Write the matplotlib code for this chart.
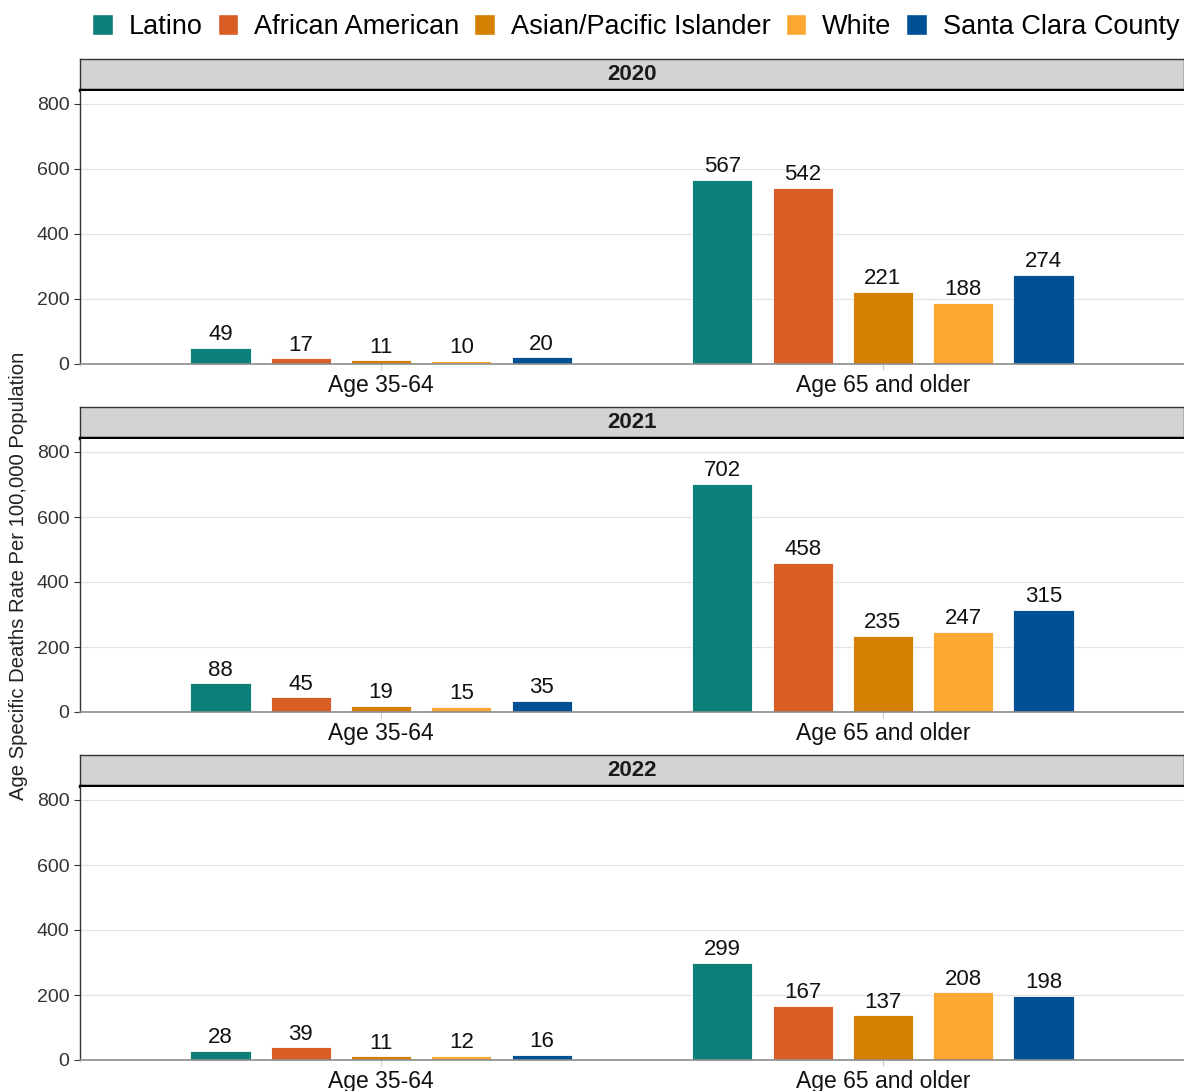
import numpy as np
import matplotlib.pyplot as plt
from matplotlib.patches import Patch

plt.rcParams['font.family'] = ['Liberation Sans', 'DejaVu Sans']

years = ['2020', '2021', '2022']
ages = ['Age 35-64', 'Age 65 and older']
groups = ['Latino', 'African American', 'Asian/Pacific Islander', 'White', 'Santa Clara County']
colors = ['#0b7f78', '#d95e26', '#d58000', '#fba832', '#005096']

# rates per group: [Age 35-64, Age 65 and older]
rates_2020 = [[49, 567], [17, 542], [11, 221], [10, 188], [20, 274]]
rates_2021 = [[88, 702], [45, 458], [19, 235], [15, 247], [35, 315]]
rates_2022 = [[28, 299], [39, 167], [11, 137], [12, 208], [16, 198]]
rates = [rates_2020, rates_2021, rates_2022]

W, H = 1184, 1091
fig = plt.figure(figsize=(W / 100, H / 100), dpi=100)


def box(l, t, r, b):
    return [l / W, 1 - b / H, (r - l) / W, (b - t) / H]


x = np.arange(len(ages))
step = 0.16
width = 0.12
offsets = (np.arange(len(groups)) - 2) * step

strip_tops = [59, 407, 755]
for yr, data, st in zip(years, rates, strip_tops):
    # facet strip
    sax = fig.add_axes(box(80, st, 1184, st + 31))
    sax.set_facecolor('#d3d3d3')
    sax.set_xticks([])
    sax.set_yticks([])
    for s in sax.spines.values():
        s.set_color('#333333')
        s.set_linewidth(1)
    sax.spines['bottom'].set_color('black')
    sax.spines['bottom'].set_linewidth(2.5)
    sax.text(0.5, 0.5, yr, transform=sax.transAxes, ha='center', va='center',
             fontsize=16, fontweight='bold', color='#1a1a1a')

    ax = fig.add_axes(box(80, st + 32, 1184, st + 305))
    for i, (g, c) in enumerate(zip(groups, colors)):
        vals = data[i]
        bars = ax.bar(x + offsets[i], vals, width, color=c, edgecolor='white',
                      linewidth=0.6, zorder=2)
        for b, v in zip(bars, vals):
            ax.annotate(str(v), (b.get_x() + b.get_width() / 2, v),
                        xytext=(0, 2), textcoords='offset points',
                        ha='center', va='bottom', fontsize=16, color='#111111')
    ax.set_xlim(-0.6, 1.6)
    ax.set_ylim(0, 840)
    ax.set_yticks([0, 200, 400, 600, 800])
    ax.set_xticks(x)
    ax.set_xticklabels(ages)
    ax.grid(axis='y', color='#e3e3e3', linewidth=0.9, zorder=0)
    ax.set_axisbelow(True)
    ax.tick_params(axis='y', labelsize=14, colors='#333333', length=4, width=0.8)
    ax.tick_params(axis='x', labelsize=16.5, labelcolor='#111111', color='#cccccc',
                   length=4, width=0.8, pad=3)
    for sp in ['top', 'right']:
        ax.spines[sp].set_visible(False)
    ax.spines['left'].set_color('#333333')
    ax.spines['left'].set_linewidth(1)
    ax.spines['bottom'].set_color('#8c8c8c')
    ax.spines['bottom'].set_linewidth(1.2)

fig.text(19 / W, 1 - 576 / H, 'Age Specific Deaths Rate Per 100,000 Population',
         rotation=90, ha='center', va='center', fontsize=14.6, color='#222222')

handles = [Patch(facecolor=c, edgecolor='white', label=g) for g, c in zip(groups, colors)]
fig.legend(handles=handles, loc='upper center', bbox_to_anchor=(636 / W, 1.0),
           ncol=5, frameon=False, fontsize=19.5, handlelength=0.75, handleheight=0.85,
           handletextpad=0.6, columnspacing=0.55, borderaxespad=0.1)

plt.savefig('out.png', dpi=100)
